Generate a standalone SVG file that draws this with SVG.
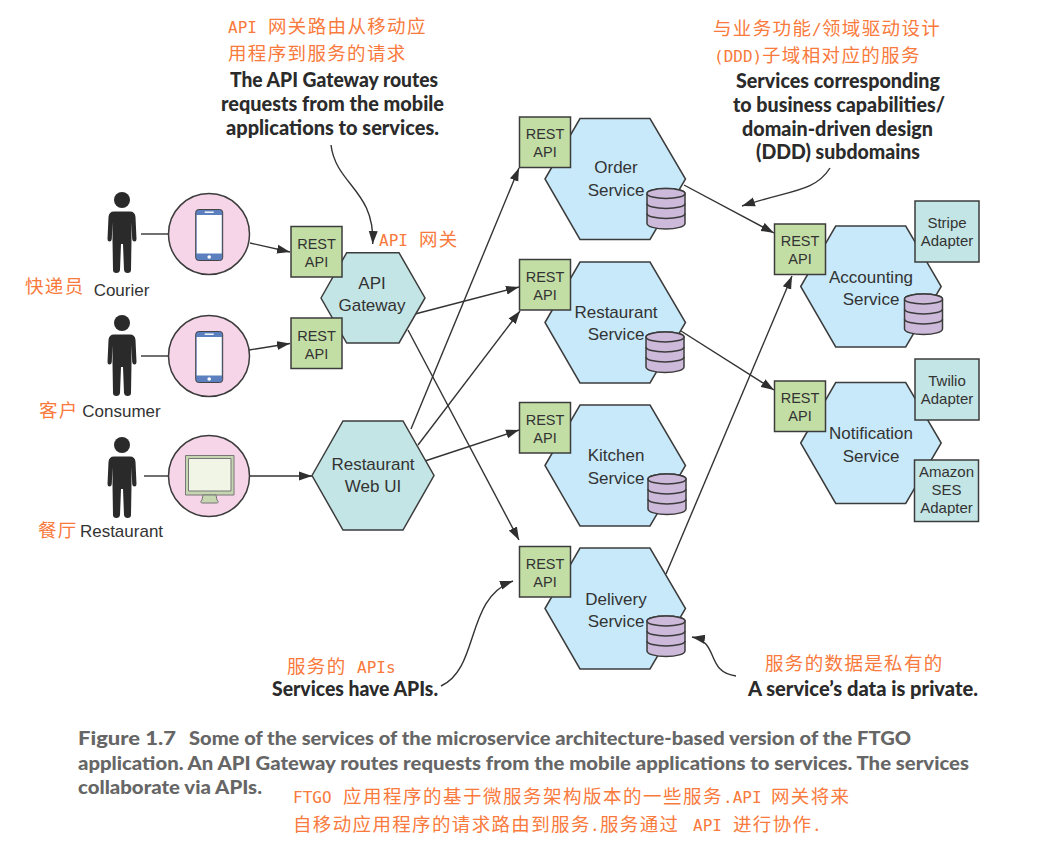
<svg xmlns="http://www.w3.org/2000/svg" xmlns:xlink="http://www.w3.org/1999/xlink" width="1047" height="847" viewBox="0 0 1047 847">
<style>
text{font-family:"Liberation Sans",Arial,sans-serif;fill:#333}
.n{font-size:17px;text-anchor:middle}
.r{font-size:14.5px;text-anchor:middle}
.a{font-size:15px;text-anchor:middle}
.s{stroke:#3c3c3c;stroke-width:1.5}
.hb{fill:#c7e9fa}.ht{fill:#c3e5e5}
.g{fill:#c3dea5}
.t{fill:#c3e5e5}
.b{font-family:Lato,"Liberation Sans",sans-serif;font-weight:900;font-size:21px;fill:#2b2b2b}
.cap{font-family:Lato,"Liberation Sans",sans-serif;font-weight:900;font-size:19px;fill:#666}
.m{font-family:"DejaVu Sans Mono","Liberation Mono",monospace;font-size:16px;fill:#f97a3c}
.c{font-family:"Noto Sans CJK SC",sans-serif;font-size:18.5px;letter-spacing:1.35px;fill:#f97a3c}
.c2{letter-spacing:1.5px}
.l{fill:none;stroke:#333;stroke-width:1.4}
.arr{marker-end:url(#ah)}
</style>
<defs>
<marker id="ah" markerUnits="userSpaceOnUse" markerWidth="14" markerHeight="10" refX="13" refY="5" orient="auto"><path d="M0,0.5 L13,5 L0,9.5 Z" fill="#2f2f2f"/></marker>
<path id="person" fill="#2a2a2a" d="M-8,11.500 H8 Q13,11.500 13.500,17 L14.500,39 Q14.500,41.500 12.500,41.500 Q10.500,41.500 10.200,39 L9.500,22 L9.500,40 L9,70 Q9,73 5.500,73 Q2.500,73 2,70 L1,44 H-1 L-2,70 Q-2.500,73 -5.500,73 Q-9,73 -9,70 L-9.500,40 L-9.500,22 L-10.200,39 Q-10.500,41.500 -12.500,41.500 Q-14.500,41.500 -14.500,39 L-13.500,17 Q-13,11.500 -8,11.500Z"/>
<g id="head"><circle cx="0" cy="0" r="8" fill="#2a2a2a"/><use href="#person"/></g>
<g id="phone"><rect x="0" y="0" width="27" height="51" rx="3" fill="#5b7fbf" stroke="#444" stroke-width="1"/><rect x="1" y="5.500" width="25" height="38.500" fill="#fff"/><rect x="9" y="2" width="9" height="1.400" fill="#fff"/><circle cx="13.500" cy="47.500" r="1.800" fill="#fff"/></g>
<g id="db"><path class="s" fill="#cdb9da" d="M0,5 V35 A19,5.500 0 0 0 38,35 V5 A19,5 0 0 0 0,5Z"/><ellipse class="s" fill="#cdb9da" cx="19" cy="5" rx="19" ry="5"/><path class="s" fill="none" d="M0,15 A19,5 0 0 0 38,15 M0,25 A19,5 0 0 0 38,25"/></g>
<polygon id="hex" points="0,60.500 35,0 105,0 140.500,60.500 105,121 35,121"/>
<rect id="rest" width="51" height="50.500"/>
</defs>

<g id="connectors">
<path class="l" d="M141,234 H168"/>
<path class="l arr" d="M250,243 L290,252"/>
<path class="l" d="M141,356 H168"/>
<path class="l arr" d="M249,350 L290,343.500"/>
<path class="l" d="M144,476 H168"/>
<path class="l arr" d="M250,476 H312"/>
<path class="l arr" d="M415,314 L519,287"/>
<path class="l arr" d="M408,330 L519,540"/>
<path class="l arr" d="M411,429 L519,168"/>
<path class="l arr" d="M418,445 L520,311"/>
<path class="l arr" d="M425,461 L519,430"/>
<path class="l arr" d="M684,185 L774,233"/>
<path class="l arr" d="M681,331 L774,390"/>
<path class="l arr" d="M666,574 L792,276"/>
<path class="l arr" d="M331,145 C336,185 375,190 372.700,244"/>
<path class="l arr" d="M830,168 C815,192 790,190 742,206"/>
<path class="l arr" d="M441,686 C480,668 465,598 513,581"/>
<path class="l arr" d="M736,676 C705,672 720,642 692,637"/>
</g>

<g id="courier"><use href="#head" x="122" y="200"/><text x="121.500" y="296" class="n">Courier</text><text x="25" y="293"><tspan class="c">快递员</tspan></text></g>
<g id="consumer"><use href="#head" x="122" y="323"/><text x="121.500" y="417" class="n">Consumer</text><text x="39" y="417"><tspan class="c">客户</tspan></text></g>
<g id="restaurant"><use href="#head" x="122" y="445"/><text x="121.500" y="537" class="n">Restaurant</text><text x="38" y="537"><tspan class="c">餐厅</tspan></text></g>

<g id="courier-app"><circle class="s" fill="#f6d5e8" cx="209" cy="234" r="40.500"/><use href="#phone" x="195.700" y="209.500"/></g>
<g id="consumer-app"><circle class="s" fill="#f6d5e8" cx="209" cy="356" r="40.500"/><use href="#phone" x="195.700" y="331.500"/></g>
<g id="restaurant-app"><circle class="s" fill="#f6d5e8" cx="209" cy="476" r="40.500"/><path fill="#c5d6b0" stroke="#777" d="M185.500,455.500 H234 V495 H185.500Z"/><path fill="#f0f5e6" stroke="#777" d="M188.500,458.500 H231 V491 H188.500Z"/><path fill="#c5d6b0" stroke="#777" d="M203,495 H216 L217,500 Q220,503 216,503 H203 Q199,503 202,500Z"/></g>

<g id="api-gateway"><polygon class="s ht" points="321,298 346.700,252.700 399,252.700 425,298 399,343 346.700,343"/><text class="n" x="372" y="289">API</text><text class="n" x="372" y="311">Gateway</text></g>
<g id="gw-rest-1"><use href="#rest" class="s g" x="291" y="226.500"/><text class="r" x="316.500" y="248.500">REST</text><text class="r" x="316.500" y="266.500">API</text></g>
<g id="gw-rest-2"><use href="#rest" class="s g" x="291" y="318"/><text class="r" x="316.500" y="340.500">REST</text><text class="r" x="316.500" y="358.500">API</text></g>
<g id="web-ui"><polygon class="s ht" points="312,475.500 343,421 403,421 434,475.500 403,530 343,530"/><text class="n" x="373" y="470">Restaurant</text><text class="n" x="373" y="492">Web UI</text></g>

<g id="order-service"><use href="#hex" class="s hb" x="545" y="118.500"/><use href="#rest" class="s g" x="519.500" y="117"/><text class="r" x="545" y="139">REST</text><text class="r" x="545" y="157">API</text><text class="n" x="616" y="173">Order</text><text class="n" x="616" y="196">Service</text><use href="#db" x="647" y="188.500"/></g>
<g id="restaurant-service"><use href="#hex" class="s hb" x="545" y="262"/><use href="#rest" class="s g" x="519.500" y="259.500"/><text class="r" x="545" y="282">REST</text><text class="r" x="545" y="300">API</text><text class="n" x="616" y="318">Restaurant</text><text class="n" x="616" y="340">Service</text><use href="#db" x="646" y="332"/></g>
<g id="kitchen-service"><use href="#hex" class="s hb" x="545" y="405"/><use href="#rest" class="s g" x="519.500" y="402.500"/><text class="r" x="545" y="425">REST</text><text class="r" x="545" y="443">API</text><text class="n" x="616" y="461">Kitchen</text><text class="n" x="616" y="484">Service</text><use href="#db" x="648" y="474"/></g>
<g id="delivery-service"><use href="#hex" class="s hb" x="545" y="548"/><use href="#rest" class="s g" x="519.500" y="546.500"/><text class="r" x="545" y="568.500">REST</text><text class="r" x="545" y="586.500">API</text><text class="n" x="616" y="605">Delivery</text><text class="n" x="616" y="627">Service</text><use href="#db" x="647" y="616"/></g>

<g id="accounting-service"><use href="#hex" class="s hb" x="800.700" y="226"/><use href="#rest" class="s g" x="774.500" y="224"/><text class="r" x="800" y="246">REST</text><text class="r" x="800" y="264">API</text><text class="n" x="871" y="283">Accounting</text><text class="n" x="871" y="305">Service</text><use href="#db" x="904.500" y="294"/><rect class="s t" x="915" y="201" width="64" height="61"/><text class="a" x="947" y="228">Stripe</text><text class="a" x="947" y="246">Adapter</text></g>
<g id="notification-service"><use href="#hex" class="s hb" x="800.700" y="382.500"/><use href="#rest" class="s g" x="774.500" y="381"/><text class="r" x="800" y="403">REST</text><text class="r" x="800" y="421">API</text><text class="n" x="871" y="439">Notification</text><text class="n" x="871" y="462">Service</text><rect class="s t" x="915" y="359" width="64" height="61"/><text class="a" x="947" y="386">Twilio</text><text class="a" x="947" y="404">Adapter</text><rect class="s t" x="914.500" y="460" width="64" height="61.500"/><text class="a" x="946.500" y="477">Amazon</text><text class="a" x="946.500" y="495">SES</text><text class="a" x="946.500" y="513">Adapter</text></g>

<g id="annotation-gateway">
<text y="33"><tspan class="m" x="228">API</tspan><tspan class="c" x="268">网关路由从移动应</tspan></text>
<text y="60"><tspan class="c" x="228">用程序到服务的请求</tspan></text>
<text class="b" x="230" y="87" textLength="208" lengthAdjust="spacingAndGlyphs">The API Gateway routes</text>
<text class="b" x="221" y="111" textLength="223" lengthAdjust="spacingAndGlyphs">requests from the mobile</text>
<text class="b" x="226" y="135" textLength="213" lengthAdjust="spacingAndGlyphs">applications to services.</text>
<text y="246"><tspan class="m" x="379">API</tspan><tspan class="c" x="419">网关</tspan></text>
</g>
<g id="annotation-services">
<text y="35"><tspan class="c" x="713">与业务功能</tspan><tspan class="m" x="812">/</tspan><tspan class="c" x="822">领域驱动设计</tspan></text>
<text y="62"><tspan class="m" x="714">(DDD)</tspan><tspan class="c" x="762">子域相对应的服务</tspan></text>
<text class="b" x="736" y="88" textLength="204" lengthAdjust="spacingAndGlyphs">Services corresponding</text>
<text class="b" x="733" y="112" textLength="212" lengthAdjust="spacingAndGlyphs">to business capabilities/</text>
<text class="b" x="742" y="136" textLength="191" lengthAdjust="spacingAndGlyphs">domain-driven design</text>
<text class="b" x="756" y="159" textLength="164" lengthAdjust="spacingAndGlyphs">(DDD) subdomains</text>
</g>
<g id="annotation-apis">
<text y="673"><tspan class="c" x="287">服务的</tspan><tspan class="m" x="357">APIs</tspan></text>
<text class="b" x="272" y="696" textLength="166" lengthAdjust="spacingAndGlyphs">Services have APIs.</text>
</g>
<g id="annotation-data">
<text y="670"><tspan class="c" x="765">服务的数据是私有的</tspan></text>
<text class="b" x="748" y="696" textLength="230" lengthAdjust="spacingAndGlyphs">A service’s data is private.</text>
</g>
<g id="caption">
<text class="cap" x="78" y="745" textLength="98" lengthAdjust="spacingAndGlyphs">Figure 1.7</text>
<text class="cap" x="189" y="745" textLength="722" lengthAdjust="spacingAndGlyphs">Some of the services of the microservice architecture-based version of the FTGO</text>
<text class="cap" x="78" y="770" textLength="891" lengthAdjust="spacingAndGlyphs">application. An API Gateway routes requests from the mobile applications to services. The services</text>
<text class="cap" x="78" y="794" textLength="184" lengthAdjust="spacingAndGlyphs">collaborate via APIs.</text>
<text y="803"><tspan class="m" x="293">FTGO</tspan><tspan class="c c2" x="343">应用程序的基于微服务架构版本的一些服务</tspan><tspan class="m" x="723">.API</tspan><tspan class="c" x="771">网关将来</tspan></text>
<text y="831"><tspan class="c" x="293">自移动应用程序的请求路由到服务</tspan><tspan class="m" x="590">.</tspan><tspan class="c" x="600">服务通过</tspan><tspan class="m" x="693">API</tspan><tspan class="c" x="733">进行协作</tspan><tspan class="m" x="812">.</tspan></text>
</g>
</svg>
